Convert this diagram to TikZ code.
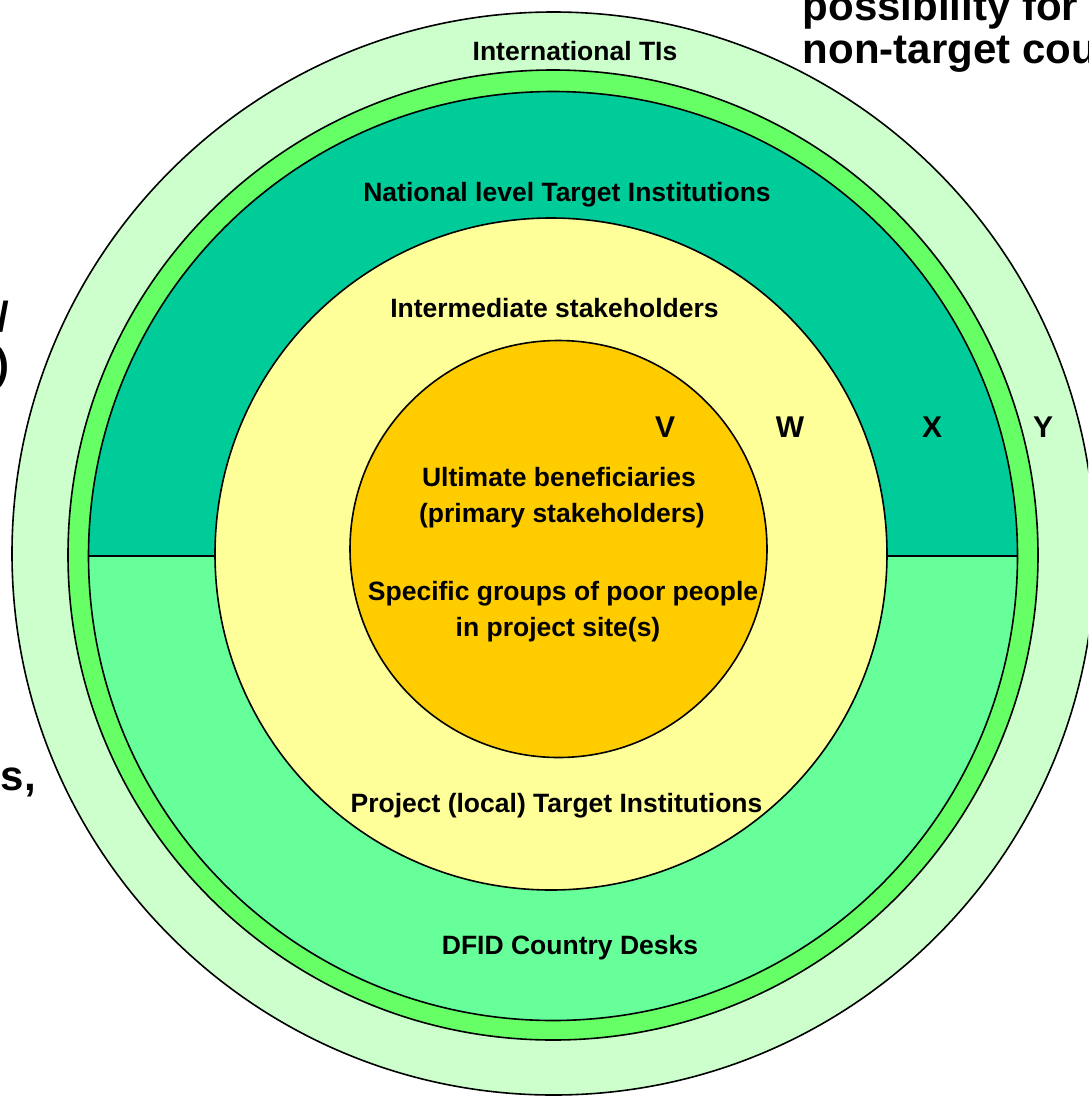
\documentclass[tikz,border=0pt]{standalone}
\usepackage{fontspec}
\setmainfont{Liberation Sans}
\definecolor{cOuter}{HTML}{CCFFCC}
\definecolor{cRing}{HTML}{66FF66}
\definecolor{cTeal}{HTML}{00CC99}
\definecolor{cMint}{HTML}{66FF99}
\definecolor{cYellow}{HTML}{FFFF99}
\definecolor{cOrange}{HTML}{FFCC00}
\begin{document}
\begin{tikzpicture}[x=1pt,y=-1pt,line width=1.6pt,
  lbl/.style={font=\fontsize{26.5}{30}\selectfont\bfseries,anchor=base,inner sep=0pt},
  letter/.style={font=\fontsize{30}{34}\selectfont\bfseries,anchor=base,inner sep=0pt},
  big/.style={font=\fontsize{42}{46}\selectfont\bfseries,inner sep=0pt}]
\useasboundingbox (0,0) rectangle (1088,1096);
\clip (0,0) rectangle (1088,1096);
\fill[white] (0,0) rectangle (1088,1096);
% rings
\draw[fill=cOuter] (553.5,553.5) circle[radius=541.5];
\draw[fill=cRing] (553,555) circle[radius=485];
\fill[cTeal] (88.5,556) arc[start angle=180,end angle=360,radius=464.5] -- cycle;
\fill[cMint] (1017.5,556) arc[start angle=0,end angle=180,radius=464.5] -- cycle;
\draw (553,556) circle[radius=464.5];
\draw (88.5,556) -- (1017.5,556);
\draw[fill=cYellow] (551,554) circle[radius=336];
\draw[fill=cOrange] (558.5,549) circle[radius=208.5];
% labels
\node[lbl] (intl) at (575,60) {International TIs};
\node[lbl] (natl) at (567,201.7) {National level Target Institutions};
\node[lbl] (inter) at (554.5,317.5) {Intermediate stakeholders};
\node[lbl] (ult1) at (559,486.5) {Ultimate beneficiaries};
\node[lbl] (ult2) at (562,522.5) {(primary stakeholders)};
\node[lbl] (spec1) at (563,600) {Specific groups of poor people};
\node[lbl] (spec2) at (558,636.7) {in project site(s)};
\node[lbl] (proj) at (556.5,812) {Project (local) Target Institutions};
\node[lbl] (dfid) at (570,954) {DFID Country Desks};
\node[letter] (V) at (665,437) {V};
\node[letter] (W) at (790,437) {W};
\node[letter] (X) at (932,437) {X};
\node[letter] (Y) at (1043,437) {Y};
% clipped outer texts
\node[big,anchor=base west] (poss) at (802,20) {possibility for};
\node[big,anchor=base west] (nont) at (802,63) {non-target cou};
\node[big,anchor=base east] (slash) at (10,331) {/};
\node[big,anchor=base east] (paren) at (10,378) {)};
\node[big,anchor=base west] (scomma) at (0,790) {s,};
\end{tikzpicture}
\end{document}
